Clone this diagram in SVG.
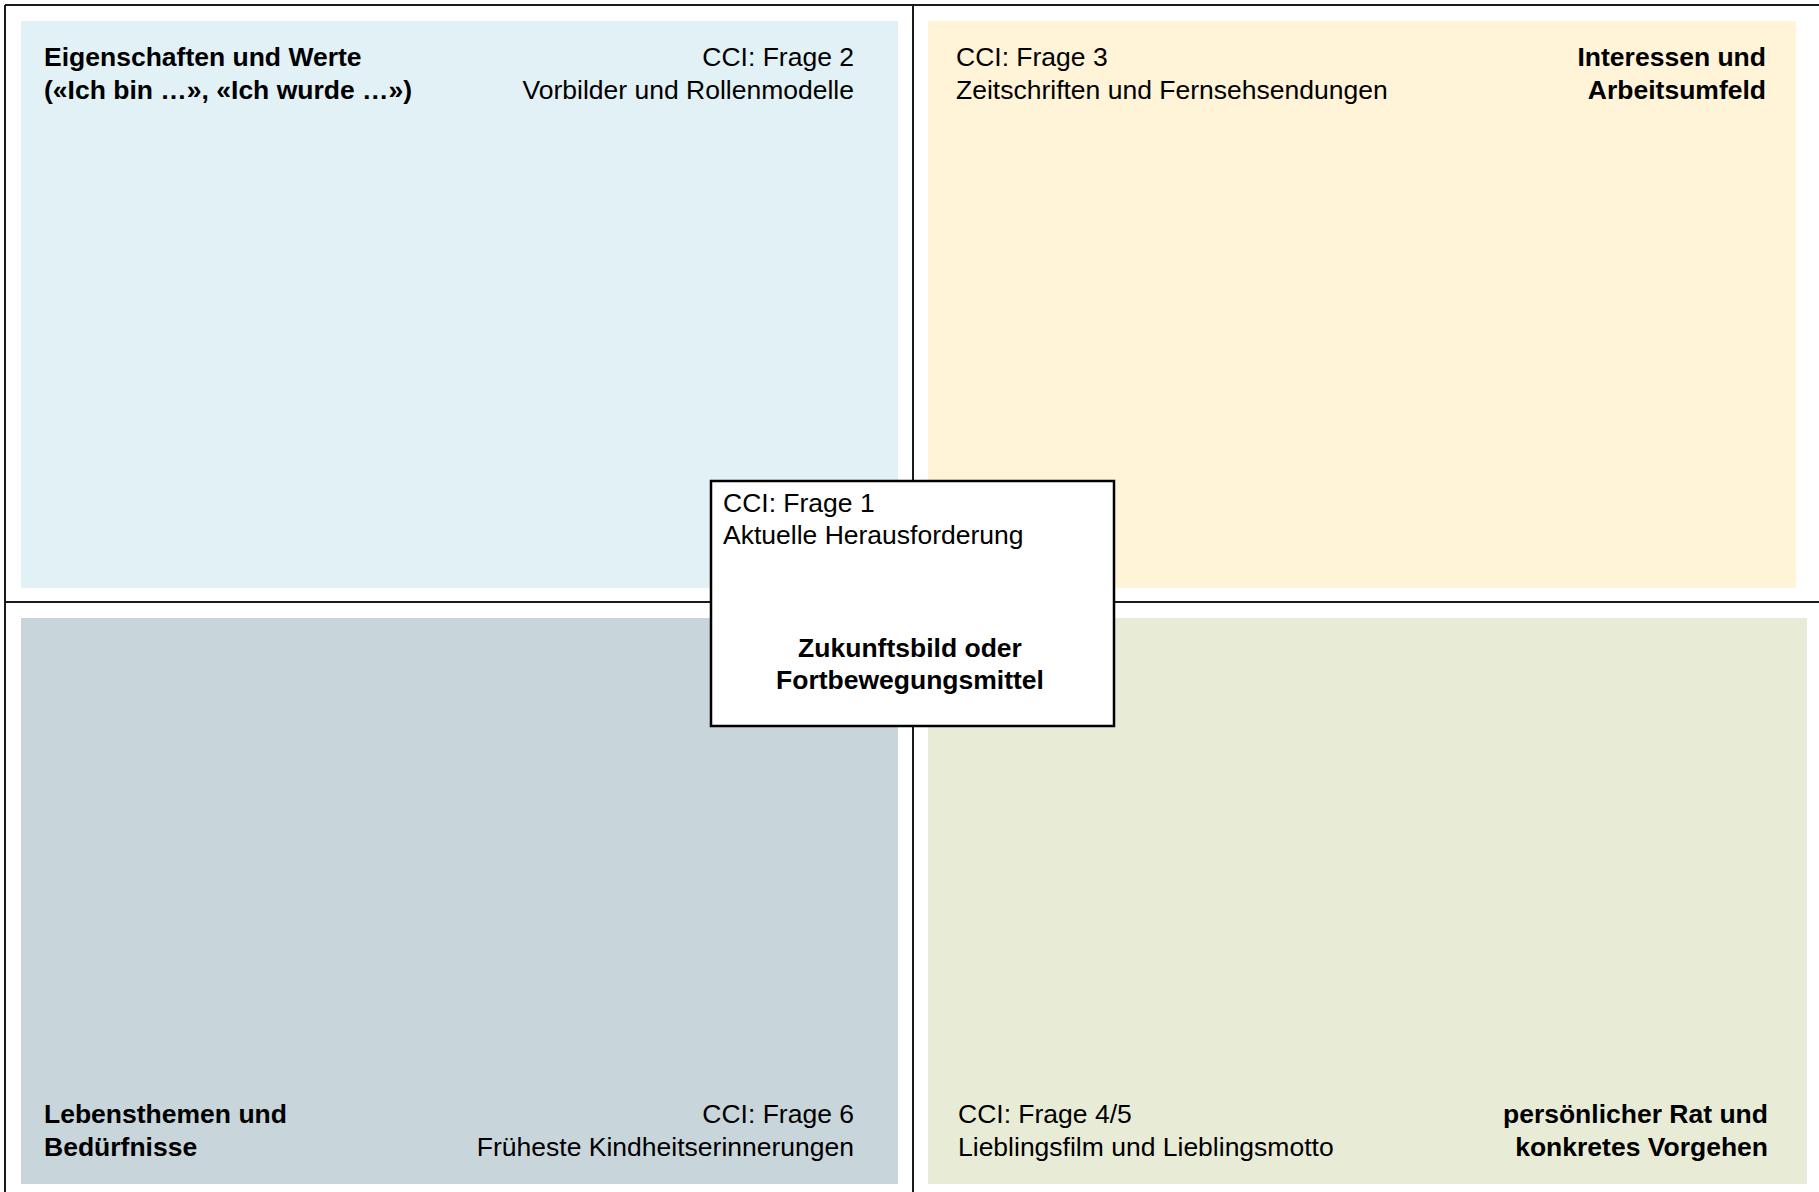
<svg xmlns="http://www.w3.org/2000/svg" width="1819" height="1192" viewBox="0 0 1819 1192">
<style>
.t{font-family:"Liberation Sans",Arial,sans-serif;font-size:26.5px;fill:#000}
.b{font-weight:bold}
.r{text-anchor:end}
.m{text-anchor:middle}
.ln{stroke:#1a1a1a;stroke-width:2;fill:none}
</style>
<rect x="0" y="0" width="1819" height="1192" fill="#fff"/>
<g id="dividers">
<line class="ln" x1="5" y1="5" x2="1819" y2="5"/>
<line class="ln" x1="5" y1="5" x2="5" y2="1192"/>
<line class="ln" x1="913" y1="5" x2="913" y2="1192"/>
<line class="ln" x1="5" y1="602" x2="1819" y2="602"/>
</g>
<g id="panel-eigenschaften">
<rect x="21" y="21" width="877" height="567" fill="#E1F1F5"/>
<text class="t b" x="44" y="66">Eigenschaften und Werte</text>
<text class="t b" x="44" y="99">(«Ich bin …», «Ich wurde …»)</text>
<text class="t r" x="854" y="66">CCI: Frage 2</text>
<text class="t r" x="854" y="99">Vorbilder und Rollenmodelle</text>
</g>
<g id="panel-interessen">
<rect x="928" y="21" width="868" height="567" fill="#FFF3D8"/>
<text class="t" x="956" y="66">CCI: Frage 3</text>
<text class="t" x="956" y="99">Zeitschriften und Fernsehsendungen</text>
<text class="t b r" x="1766" y="66">Interessen und</text>
<text class="t b r" x="1766" y="99">Arbeitsumfeld</text>
</g>
<g id="panel-lebensthemen">
<rect x="21" y="618" width="877" height="566" fill="#C8D5DB"/>
<text class="t b" x="44" y="1123">Lebensthemen und</text>
<text class="t b" x="44" y="1156">Bedürfnisse</text>
<text class="t r" x="854" y="1123">CCI: Frage 6</text>
<text class="t r" x="854" y="1156">Früheste Kindheitserinnerungen</text>
</g>
<g id="panel-rat">
<rect x="928" y="618" width="879" height="566" fill="#E8ECD7"/>
<text class="t" x="958" y="1123">CCI: Frage 4/5</text>
<text class="t" x="958" y="1156">Lieblingsfilm und Lieblingsmotto</text>
<text class="t b r" x="1768" y="1123">persönlicher Rat und</text>
<text class="t b r" x="1768" y="1156">konkretes Vorgehen</text>
</g>
<g id="center-zukunftsbild">
<rect x="711" y="481" width="403" height="245" fill="#fff" stroke="#000" stroke-width="2.5"/>
<text class="t" x="723" y="512">CCI: Frage 1</text>
<text class="t" x="723" y="544">Aktuelle Herausforderung</text>
<text class="t b m" x="910" y="657">Zukunftsbild oder</text>
<text class="t b m" x="910" y="689">Fortbewegungsmittel</text>
</g>
</svg>
